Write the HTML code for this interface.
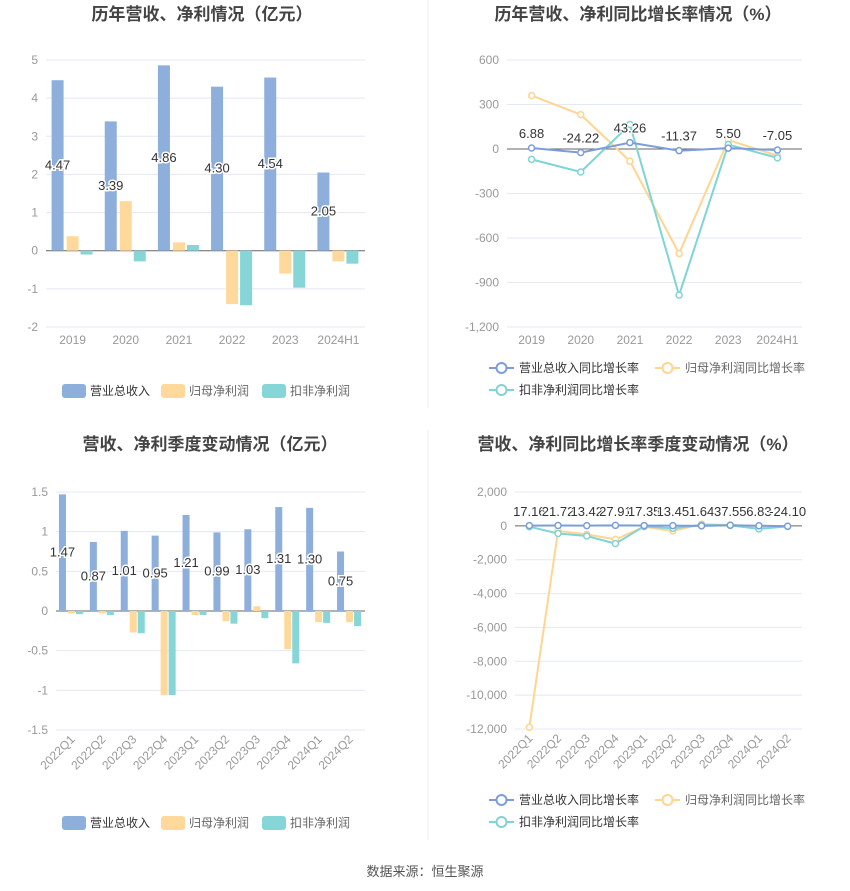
<!DOCTYPE html>
<html><head><meta charset="utf-8">
<style>
html,body{margin:0;padding:0;background:#fff;}
svg{display:block;font-family:"Liberation Sans","Noto Sans CJK SC",sans-serif;}
</style></head>
<body>
<svg id="s" width="850" height="891" viewBox="0 0 850 891" xmlns="http://www.w3.org/2000/svg">
<line x1="428" y1="0" x2="428" y2="408" stroke="#eee"/>
<line x1="428" y1="430" x2="428" y2="840" stroke="#eee"/>
<text x="202" y="20" text-anchor="middle" font-size="17" font-weight="bold" fill="#444">历年营收、净利情况（亿元）</text>
<text x="638" y="20" text-anchor="middle" font-size="17" font-weight="bold" fill="#444">历年营收、净利同比增长率情况（%）</text>
<text x="210" y="450" text-anchor="middle" font-size="17" font-weight="bold" fill="#444">营收、净利季度变动情况（亿元）</text>
<text x="638" y="450" text-anchor="middle" font-size="17" font-weight="bold" fill="#444">营收、净利同比增长率季度变动情况（%）</text>
<text x="425" y="876" text-anchor="middle" font-size="13" fill="#555">数据来源：恒生聚源</text>
</svg>
<script>
// Chart 1 data
var c1Cats = ["2019","2020","2021","2022","2023","2024H1"];
var c1Rev = [4.47,3.39,4.86,4.30,4.54,2.05];
var c1Net = [0.38,1.30,0.22,-1.40,-0.60,-0.28];
var c1Ded = [-0.10,-0.28,0.15,-1.43,-0.97,-0.34];
var c1Ticks = [5,4,3,2,1,0,-1,-2];
// Chart 2 data
var c2Cats = ["2019","2020","2021","2022","2023","2024H1"];
var c2Rev = [6.88,-24.22,43.26,-11.37,5.50,-7.05];
var c2Net = [360,232,-82,-705,60,-45];
var c2Ded = [-70,-155,165,-985,30,-60];
var c2Ticks = [600,300,0,-300,-600,-900,-1200];
// Chart 3 data
var c3Cats = ["2022Q1","2022Q2","2022Q3","2022Q4","2023Q1","2023Q2","2023Q3","2023Q4","2024Q1","2024Q2"];
var c3Rev = [1.47,0.87,1.01,0.95,1.21,0.99,1.03,1.31,1.30,0.75];
var c3Net = [-0.03,-0.03,-0.27,-1.06,-0.05,-0.13,0.06,-0.48,-0.14,-0.14];
var c3Ded = [-0.04,-0.05,-0.28,-1.06,-0.05,-0.16,-0.09,-0.66,-0.15,-0.19];
var c3Ticks = [1.5,1,0.5,0,-0.5,-1,-1.5];
// Chart 4 data
var c4Cats = ["2022Q1","2022Q2","2022Q3","2022Q4","2023Q1","2023Q2","2023Q3","2023Q4","2024Q1","2024Q2"];
var c4Rev = [17.16,21.72,13.42,27.91,17.35,13.45,1.64,37.55,6.83,-24.10];
var c4Net = [-11900,-300,-500,-800,-50,-300,100,50,-50,-20];
var c4Ded = [-50,-450,-600,-1050,-30,-150,50,30,-180,-30];
var c4Ticks = [2000,0,-2000,-4000,-6000,-8000,-10000,-12000];

var NS="http://www.w3.org/2000/svg", S=document.getElementById('s');
var BLUE="#8eaedc", ORANGE="#ffd99b", TEAL="#86d6d8", LBLUE="#7b9edb", LORANGE="#ffd591", LTEAL="#7fd4d6";
function mk(tag,at,parent){var e=document.createElementNS(NS,tag);for(var k in at)e.setAttribute(k,at[k]);(parent||S).appendChild(e);return e;}
function fmt(v){var a=Math.abs(v);var s=a>=1000?a.toLocaleString('en-US'):String(v<0?a:v);return (v<0?"-":"")+s;}

function axes(g,x0,x1,yTop,yBot,ticks,cats,rotate,pref){
  var max=ticks[0],min=ticks[ticks.length-1];
  var ys=function(v){return yTop+(max-v)/(max-min)*(yBot-yTop);};
  var band=(x1-x0)/cats.length;
  var xs=function(i){return x0+band*(i+0.5);};
  ticks.forEach(function(t){
    var y=ys(t);
    var l=mk('line',{x1:x0,x2:x1,y1:y,y2:y,stroke:t===0?'#666':'#e3e8f5'},g);
    
    
    var tx=mk('text',{x:x0-8,y:y+4,'text-anchor':'end','font-size':12,fill:'#999'},g);
    tx.textContent=fmt(t);
    
    
  });
  cats.forEach(function(c,i){
    var t;
    if(rotate){t=mk('text',{x:xs(i)+4,y:yBot+10,'text-anchor':'end','font-size':12,fill:'#999',transform:'rotate(-45 '+(xs(i)+4)+' '+(yBot+10)+')'},g);}
    else{t=mk('text',{x:xs(i),y:yBot+17,'text-anchor':'middle','font-size':12,fill:'#999'},g);}
    t.textContent=c;
    
    
  });
  return {ys:ys,xs:xs,band:band};
}
function barChart(pref,x0,x1,yTop,yBot,ticks,cats,series,bw,offs){
  var g=mk('g',{});
  
  
  var a=axes(g,x0,x1,yTop,yBot,ticks,cats,pref==='chart3',pref);
  var names=['revenue-bar','net-profit-bar','deducted-profit-bar'],cols=[BLUE,ORANGE,TEAL];
  series.forEach(function(arr,si){
    arr.forEach(function(v,i){
      var y0=a.ys(0),y=a.ys(v);
      var r=mk('rect',{x:a.xs(i)+offs[si]-bw/2,y:Math.min(y,y0),width:bw,height:Math.abs(y-y0),fill:cols[si]},g);
      
      
    });
  });
  series[0].forEach(function(v,i){
    var t=mk('text',{x:a.xs(i)+offs[0],y:(a.ys(v)+a.ys(0))/2+4,'text-anchor':'middle','font-size':13,fill:'#333',stroke:'#fff','stroke-width':3,'paint-order':'stroke'},g);
    t.textContent=v.toFixed(2);
    
    
  });
}
function lineChart(pref,x0,x1,yTop,yBot,ticks,cats,series,rotate,labelY){
  var g=mk('g',{});
  
  
  var a=axes(g,x0,x1,yTop,yBot,ticks,cats,rotate,pref);
  var names=['revenue-growth','net-profit-growth','deducted-profit-growth'],cols=[LBLUE,LORANGE,LTEAL];
  [1,2,0].forEach(function(si){
    var arr=series[si];
    var pts=arr.map(function(v,i){return a.xs(i)+','+a.ys(v);}).join(' ');
    var p=mk('polyline',{points:pts,fill:'none',stroke:cols[si],'stroke-width':2},g);
    
    
    arr.forEach(function(v,i){
      var c=mk('circle',{cx:a.xs(i),cy:a.ys(v),r:3,fill:'#fff',stroke:cols[si],'stroke-width':1.5},g);
      
      
    });
  });
  series[0].forEach(function(v,i){
    var t=mk('text',{x:a.xs(i),y:labelY!=null?labelY:a.ys(v)-10,'text-anchor':'middle','font-size':13,fill:'#333',stroke:'#fff','stroke-width':2,'paint-order':'stroke'},g);
    t.textContent=v.toFixed(2);
    
    
  });
}
barChart('chart1',46,365,60,327,c1Ticks,c1Cats,[c1Rev,c1Net,c1Ded],12,[-15,0,14]);
lineChart('chart2',507,802,60,327,c2Ticks,c2Cats,[c2Rev,c2Net,c2Ded],false,null);
barChart('chart3',56,365,492,730,c3Ticks,c3Cats,[c3Rev,c3Net,c3Ded],7,[-9,0,8]);
lineChart('chart4',515,802,492,729,c4Ticks,c4Cats,[c4Rev,c4Net,c4Ded],true,516);

function barLegend(y,pref){
  var items=[['营业总收入',BLUE,62,'#333'],['归母净利润',ORANGE,161,'#666'],['扣非净利润',TEAL,262,'#666']];
  items.forEach(function(it){
    var r=mk('rect',{x:it[2],y:y-7,width:24,height:14,rx:3,fill:it[1]});
    
    
    var t=mk('text',{x:it[2]+28,y:y+4,'font-size':12,fill:it[3]});
    t.textContent=it[0];
    
    
  });
}
function lineLegend(y,pref){
  var items=[['营业总收入同比增长率',LBLUE,489,y,'#333'],['归母净利润同比增长率',LORANGE,655,y,'#666'],['扣非净利润同比增长率',LTEAL,489,y+22,'#333']];
  items.forEach(function(it){
    var l=mk('line',{x1:it[2],x2:it[2]+25,y1:it[3],y2:it[3],stroke:it[1],'stroke-width':2});
    
    
    var c=mk('circle',{cx:it[2]+12.5,cy:it[3],r:5,fill:'#fff',stroke:it[1],'stroke-width':2});
    
    
    var t=mk('text',{x:it[2]+30,y:it[3]+4,'font-size':12,fill:it[4]});
    t.textContent=it[0];
    
    
  });
}
barLegend(391,'chart1');
lineLegend(368,'chart2');
barLegend(823,'chart3');
lineLegend(800,'chart4');
</script>
</body></html>
